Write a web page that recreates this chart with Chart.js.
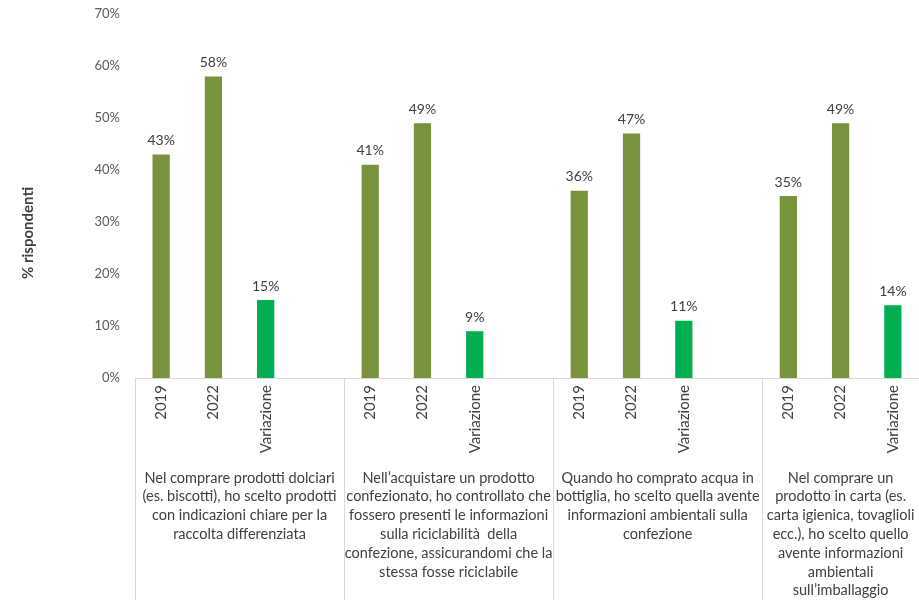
<!DOCTYPE html>
<html>
<head>
<meta charset="utf-8">
<script src="https://cdn.jsdelivr.net/npm/chart.js@4"></script>
<style>
  body { margin: 0; background: #fff; }
</style>
</head>
<body>
<canvas id="chart" width="919" height="600"></canvas>
<script>
// dati: percentuale di rispondenti per domanda
const seriesLabels = ['2019', '2022', 'Variazione'];
const values2019 = [43, 41, 36, 35];
const values2022 = [58, 49, 47, 49];
const valuesVariazione = [15, 9, 11, 14];
const yTicks = [0, 10, 20, 30, 40, 50, 60, 70];
const groupLabels = [
    ['Nel comprare prodotti dolciari', '(es. biscotti), ho scelto prodotti', 'con indicazioni chiare per la', 'raccolta differenziata'],
    ['Nell\u2019acquistare un prodotto', 'confezionato, ho controllato che', 'fossero presenti le informazioni', 'sulla riciclabilit\u00e0  della', 'confezione, assicurandomi che la', 'stessa fosse riciclabile'],
    ['Quando ho comprato acqua in', 'bottiglia, ho scelto quella avente', 'informazioni ambientali sulla', 'confezione'],
    ['Nel comprare un', 'prodotto in carta (es.', 'carta igienica, tovaglioli', 'ecc.), ho scelto quello', 'avente informazioni', 'ambientali', 'sull\u2019imballaggio']
];

const OLIVE = '#77933c';
const GREEN = '#00b050';
const FONT = 'Lato, "Open Sans", sans-serif';

// una colonna vuota separa i gruppi (tranne dopo l'ultimo)
const labels = [];
const data = [];
const colors = [];
for (let g = 0; g < groupLabels.length; g++) {
    const vals = [values2019[g], values2022[g], valuesVariazione[g]];
    vals.forEach((v, i) => {
        labels.push(seriesLabels[i]);
        data.push(v);
        colors.push(i === 2 ? GREEN : OLIVE);
    });
    if (g < groupLabels.length - 1) {
        labels.push('');
        data.push(null);
        colors.push(OLIVE);
    }
}

const valueLabels = {
    id: 'valueLabels',
    afterDatasetsDraw(chart) {
        const ctx = chart.ctx;
        const meta = chart.getDatasetMeta(0);
        ctx.save();
        ctx.font = '14px ' + FONT;
        ctx.fillStyle = '#404040';
        ctx.textAlign = 'center';
        ctx.textBaseline = 'bottom';
        meta.data.forEach((bar, i) => {
            if (data[i] == null) return;
            ctx.fillText(data[i] + '%', bar.x, bar.y - 7);
        });
        ctx.restore();
    }
};

const groupAxis = {
    id: 'groupAxis',
    afterDraw(chart) {
        const ctx = chart.ctx;
        const x = chart.scales.x;
        const area = chart.chartArea;
        const half = (x.getPixelForValue(1) - x.getPixelForValue(0)) / 2;
        const edges = groupLabels.map((_, g) => x.getPixelForValue(g * 4) - half);
        edges.push(area.right);

        ctx.save();
        ctx.strokeStyle = '#d9d9d9';
        ctx.lineWidth = 1;
        for (let g = 0; g < groupLabels.length; g++) {
            const px = Math.round(edges[g]) + 0.5;
            ctx.beginPath();
            ctx.moveTo(px, area.bottom);
            ctx.lineTo(px, chart.height);
            ctx.stroke();
        }

        ctx.font = '14.5px ' + FONT;
        ctx.fillStyle = '#404040';
        ctx.textAlign = 'center';
        ctx.textBaseline = 'middle';
        groupLabels.forEach((lines, g) => {
            const cx = (edges[g] + edges[g + 1]) / 2;
            lines.forEach((line, k) => {
                ctx.fillText(line, cx, area.bottom + 100 + k * 18.8);
            });
        });

        // titolo asse y
        ctx.font = 'bold 15px ' + FONT;
        ctx.translate(28, 233);
        ctx.rotate(-Math.PI / 2);
        ctx.fillText('% rispondenti', 0, 0);
        ctx.restore();
    }
};

new Chart(document.getElementById('chart'), {
    type: 'bar',
    data: {
        labels: labels,
        datasets: [{
            data: data,
            backgroundColor: colors,
            barPercentage: 0.33,
            categoryPercentage: 1
        }]
    },
    options: {
        responsive: false,
        animation: false,
        layout: { padding: { top: 14, right: 0, left: 0, bottom: 0 } },
        plugins: {
            legend: { display: false },
            tooltip: { enabled: false }
        },
        scales: {
            x: {
                grid: { display: false, drawTicks: false },
                border: { display: true, color: '#d9d9d9', width: 1 },
                ticks: {
                    autoSkip: false,
                    minRotation: 90,
                    maxRotation: 90,
                    padding: 7,
                    color: '#404040',
                    font: { family: FONT, size: 15 }
                },
                afterFit(scale) { scale.height = 222; }
            },
            y: {
                min: 0,
                max: 70,
                afterBuildTicks(scale) { scale.ticks = yTicks.map(v => ({ value: v })); },
                grid: { display: false, drawTicks: false },
                border: { display: false },
                ticks: {
                    padding: 15,
                    color: '#595959',
                    font: { family: FONT, size: 13 },
                    callback: v => v + '%'
                },
                afterFit(scale) {
                    scale.width = 135;
                    scale.paddingTop = 0;
                    scale.paddingBottom = 0;
                }
            }
        }
    },
    plugins: [valueLabels, groupAxis]
});
</script>
</body>
</html>
